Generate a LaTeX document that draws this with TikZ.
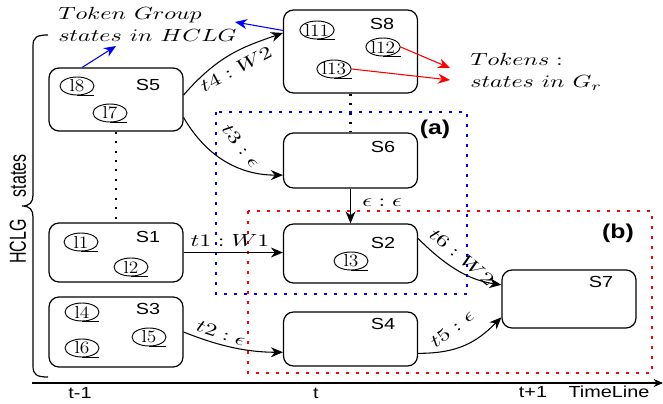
\documentclass[tikz,border=0pt]{standalone}
\usepackage{fontspec}
\setsansfont{Liberation Sans}
\usetikzlibrary{arrows.meta,calc,shapes.geometric}

% widened text: math set at 10pt and scaled
\newcommand{\wid}[2]{\scalebox{#1}[1]{#2}}
\newcommand{\mlab}[1]{\scalebox{1.8}[1.32]{\fontsize{10}{12}\selectfont$#1$}}
\newcommand{\slab}[1]{\wid{1.24}{#1}}
\newcommand{\tlab}[1]{\wid{1.12}{#1}}

\begin{document}
\begin{tikzpicture}[x=0.75pt,y=-0.75pt,
  statebox/.style={draw, line width=0.9pt, rounded corners=7.5pt,
    minimum width=100.5pt, inner sep=0pt},
  slabel/.style={font=\fontsize{12}{14}\selectfont\sffamily, inner sep=0pt},
  boldlabel/.style={font=\fontsize{15}{18}\selectfont\sffamily\bfseries, inner sep=0pt},
  mathlabel/.style={font=\fontsize{13}{16.5}\selectfont, inner sep=0pt},
  tok/.style={draw, ellipse, line width=0.7pt, minimum width=25.5pt,
    minimum height=13.5pt, inner sep=0pt, font=\fontsize{13}{13}\selectfont},
  uline/.style={line width=0.7pt},
  arr/.style={line width=0.8pt, -{Stealth[length=9pt,width=7.5pt]}},
  blackdots/.style={line width=1.8pt, dash pattern=on 1.5pt off 5.6pt},
  bluedots/.style={blue, line width=2.2pt, dash pattern=on 2.2pt off 5.3pt},
  reddots/.style={red, line width=2.2pt, dash pattern=on 2.2pt off 5.3pt},
]
\useasboundingbox (0,0) rectangle (663,403);

% regions (a) and (b)
\draw[bluedots] (216,112) rectangle (467,294);
\draw[reddots] (248,211) rectangle (652,373);
\node[boldlabel] (lba) at (435,129) {\slab{(a)}};
\node[boldlabel] (lbb) at (618,233) {\slab{(b)}};

% states
\node[statebox, minimum height=47.25pt] (S5) at (116,99.5) {};
\node[statebox, minimum height=62.25pt] (S8) at (350.5,51.5) {};
\node[statebox, minimum height=41.25pt] (S6) at (350.5,160.5) {};
\node[statebox, minimum height=44.25pt] (S2) at (350.5,253.5) {};
\node[statebox, minimum height=44.25pt] (S1) at (116,252.5) {};
\node[statebox, minimum height=52.5pt] (S3) at (116,332) {};
\node[statebox, minimum height=40.5pt] (S4) at (350.5,339) {};
\node[statebox, minimum height=43.5pt] (S7) at (569,299) {};

\node[slabel] (tS5) at (148,85) {\slab{S5}};
\node[slabel] (tS8) at (382,24) {\slab{S8}};
\node[slabel] (tS6) at (383,147) {\slab{S6}};
\node[slabel] (tS2) at (383,243) {\slab{S2}};
\node[slabel] (tS1) at (148,237) {\slab{S1}};
\node[slabel] (tS3) at (148,309) {\slab{S3}};
\node[slabel] (tS4) at (383,324) {\slab{S4}};
\node[slabel] (tS7) at (601,282) {\slab{S7}};

% tokens inside the states
\foreach \nm/\px/\py/\txt in {l8/77/86/l8, l7/110/113/l7, l11/317/30/l11,
    l12/383/47/l12, l13/334/69/l13, l1/81/242/l1, l2/131/267/l2,
    l3/351/261/l3, l4/82/312/l4, l5/149/337/l5, l6/82/348/l6}{
  \node[tok] (\nm) at (\px,\py) {\tlab{\txt}};
  \draw[uline] (\nm.south) -- (\nm.south -| \nm.east);
}

% dotted links between states of the same group
\draw[blackdots] (S5.south) -- (S1.north);
\draw[blackdots] (S8.south) -- (S6.north);

% transitions
\draw[arr] ($(S5.north east)!0.43!(S5.south east)$)
  .. controls +(35,-40) and +(-40,14) .. ($(S8.north west)!0.28!(S8.south west)$);
\draw[arr] ($(S5.north east)!0.78!(S5.south east)$)
  .. controls +(22,38) and +(-45,0) .. ($(S6.north west)!0.76!(S6.south west)$);
\draw[arr] (S1.east) -- (S1.east -| S2.west);
\draw[arr] (S3.east)
  .. controls +(30,12) and +(-40,0) .. ($(S4.north west)!0.74!(S4.south west)$);
\draw[arr] (S6.south) -- (S2.north);
\draw[arr] ($(S2.north east)!0.25!(S2.south east)$)
  .. controls +(25,25) and +(-35,-5) .. ($(S7.north west)!0.26!(S7.south west)$);
\draw[arr] ($(S4.north east)!0.76!(S4.south east)$)
  .. controls +(40,0) and +(-25,25) .. ($(S7.north west)!0.81!(S7.south west)$);

% transition labels
\node[mathlabel, rotate=28] (L4) at (236,69) {\mlab{t4:W2}};
\node[mathlabel, rotate=-52] (L3) at (241,146) {\mlab{t3:\epsilon}};
\node[mathlabel] (L1) at (230,240) {\mlab{t1:W1}};
\node[mathlabel, rotate=-18] (L2) at (221,333) {\mlab{t2:\epsilon}};
\node[mathlabel, rotate=-40] (L6) at (462,257) {\mlab{t6:W2}};
\node[mathlabel, rotate=38] (L5) at (452,329) {\mlab{t5:\epsilon}};
\node[mathlabel] (Lee) at (382,203) {\mlab{\epsilon:\epsilon}};

% annotations
\node[mathlabel, anchor=north west, align=left] (grp) at (58,7)
  {\mlab{Token\ Group}\\\mlab{states\ in\ HCLG}};
\node[mathlabel, anchor=north west, align=left] (gr) at (470,53)
  {\mlab{Tokens:}\\\mlab{states\ in\ G_r}};
\coordinate (bt1) at (116,46);
\coordinate (bt2) at (235,22);
\coordinate (rt1) at (450,68);
\coordinate (rt2) at (450,80);
\draw[arr, blue] ($(S5.north west)!0.25!(S5.north east)$) -- (bt1);
\draw[arr, blue] ($(S8.north west)!0.25!(S8.south west)$) -- (bt2);
\draw[arr, red] (l12.east) -- (rt1);
\draw[arr, red] (l13.east) -- (rt2);

% brace grouping the HCLG states
\draw[line width=0.9pt] (48,35) .. controls (37,35) and (33,37) .. (33,46)
  -- (33,195) .. controls (33,202) and (30,206) .. (22,206)
  .. controls (30,206) and (33,210) .. (33,217)
  -- (33,366) .. controls (33,375) and (37,377) .. (48,377);
\node[slabel, rotate=90] (hclg) at (18,209)
  {\scalebox{1}[1.45]{HCLG\hspace{16.5pt}states}};

% time line
\coordinate (tl0) at (32,383);
\coordinate (tl1) at (663,383);
\draw[line width=0.8pt, -{Stealth[length=7pt,width=6pt]}] (tl0) -- (tl1);
\node[slabel] (tm1) at (80,393) {\slab{t-1}};
\node[slabel] (tm0) at (316,393) {\slab{t}};
\node[slabel] (tp1) at (533,392) {\slab{t+1}};
\node[slabel] (tln) at (609,392) {\slab{TimeLine}};
\end{tikzpicture}
\end{document}
